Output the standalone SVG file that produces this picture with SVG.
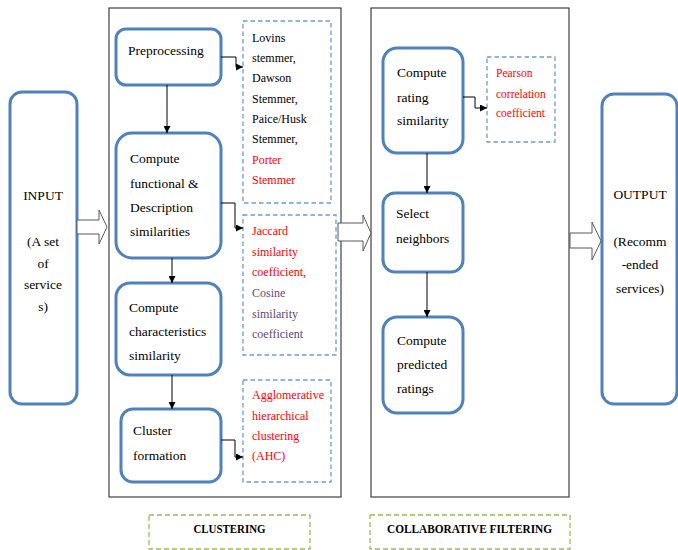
<svg xmlns="http://www.w3.org/2000/svg" width="678" height="550" viewBox="0 0 678 550">
<defs>
<marker id="ah" viewBox="0 0 8 8" refX="8" refY="4" markerWidth="7" markerHeight="7" markerUnits="userSpaceOnUse" orient="auto">
<path d="M0,0 L8,4 L0,8 Z" fill="#000"/>
</marker>
<style>
.node{fill:#fff;stroke:#4f81bd;stroke-width:3}
.frame{fill:#fff;stroke:#404040;stroke-width:1.2}
.dbox{fill:#fff;stroke:#6f9bd1;stroke-width:1.3;stroke-dasharray:4.5 3}
.gbox{fill:#fff;stroke:#9bbb59;stroke-width:1.3;stroke-dasharray:5 3}
.hollow{fill:#fff;stroke:#595959;stroke-width:1}
.conn{fill:none;stroke:#000;stroke-width:1;marker-end:url(#ah)}
text{font-family:'Liberation Serif','DejaVu Serif','Times New Roman',serif}
.t{font-size:13.5px;fill:#000}
.s{font-size:12px;fill:#000}
.p{font-size:11.5px;fill:#ff0000}
.red{fill:#ff0000}
.pur{fill:#604a7b}
.lab{font-size:12px;font-weight:bold;fill:#000}
</style>
</defs>

<rect class="frame" x="109" y="8" width="232" height="489"/>
<rect class="frame" x="371" y="8" width="198" height="489"/>

<g id="input">
<rect class="node" x="10" y="92" width="67" height="312" rx="12"/>
<text class="t" font-family="Liberation Serif, serif" text-anchor="middle" x="43" y="200">INPUT</text>
<text class="t" font-family="Liberation Serif, serif" text-anchor="middle" x="43" y="246">(A set</text>
<text class="t" font-family="Liberation Serif, serif" text-anchor="middle" x="43" y="268">of</text>
<text class="t" font-family="Liberation Serif, serif" text-anchor="middle" x="43" y="289">service</text>
<text class="t" font-family="Liberation Serif, serif" text-anchor="middle" x="43" y="311">s)</text>
</g>

<g id="preprocessing">
<rect class="node" x="116" y="29" width="105" height="56" rx="10"/>
<text class="t" x="128" y="55">Preprocessing</text>
</g>

<g id="functional">
<rect class="node" x="116" y="133" width="105" height="125" rx="16"/>
<text class="t" x="130" y="163">Compute</text>
<text class="t" x="130" y="187.5">functional &amp;</text>
<text class="t" x="130" y="212">Description</text>
<text class="t" x="130" y="236">similarities</text>
</g>

<g id="characteristics">
<rect class="node" x="116" y="283" width="105" height="92" rx="14"/>
<text class="t" x="129" y="312">Compute</text>
<text class="t" x="129" y="336">characteristics</text>
<text class="t" x="129" y="360">similarity</text>
</g>

<g id="cluster">
<rect class="node" x="121" y="409" width="100" height="73" rx="12"/>
<text class="t" x="133" y="435">Cluster</text>
<text class="t" x="133" y="460">formation</text>
</g>

<g id="stemmers">
<rect class="dbox" x="243" y="21" width="88" height="182"/>
<text class="s" x="252" y="42">Lovins</text>
<text class="s" x="252" y="62">stemmer,</text>
<text class="s" x="252" y="82">Dawson</text>
<text class="s" x="252" y="103">Stemmer,</text>
<text class="s" x="252" y="123">Paice/Husk</text>
<text class="s" x="252" y="143">Stemmer,</text>
<text class="s red" x="252" y="164">Porter</text>
<text class="s red" x="252" y="184">Stemmer</text>
</g>

<g id="similarity-coefficients">
<rect class="dbox" x="243" y="215" width="93" height="140"/>
<text class="s red" x="252" y="235">Jaccard</text>
<text class="s red" x="252" y="256">similarity</text>
<text class="s red" x="252" y="276">coefficient,</text>
<text class="s pur" x="252" y="297">Cosine</text>
<text class="s pur" x="252" y="318">similarity</text>
<text class="s pur" x="252" y="338">coefficient</text>
</g>

<g id="ahc">
<rect class="dbox" x="243" y="380" width="88" height="102"/>
<text class="s red" x="252" y="399">Agglomerative</text>
<text class="s red" x="252" y="420">hierarchical</text>
<text class="s red" x="252" y="440">clustering</text>
<text class="s red" x="252" y="460">(AHC)</text>
</g>

<g id="rating">
<rect class="node" x="383" y="48" width="80" height="105" rx="14"/>
<text class="t" x="397" y="77">Compute</text>
<text class="t" x="397" y="102">rating</text>
<text class="t" x="397" y="125">similarity</text>
</g>

<g id="pearson">
<rect class="dbox" x="487" y="57" width="68" height="85"/>
<text class="p" x="496" y="77">Pearson</text>
<text class="p" x="496" y="98">correlation</text>
<text class="p" x="496" y="117">coefficient</text>
</g>

<g id="neighbors">
<rect class="node" x="383" y="193" width="80" height="79" rx="12"/>
<text class="t" x="396" y="218">Select</text>
<text class="t" x="396" y="243">neighbors</text>
</g>

<g id="predicted">
<rect class="node" x="383" y="317" width="80" height="96" rx="14"/>
<text class="t" x="397" y="345">Compute</text>
<text class="t" x="397" y="369">predicted</text>
<text class="t" x="397" y="393">ratings</text>
</g>

<g id="output">
<rect class="node" x="602" y="94" width="75" height="310" rx="12"/>
<text class="t" text-anchor="middle" x="640" y="199">OUTPUT</text>
<text class="t" text-anchor="middle" x="640" y="246">(Recomm</text>
<text class="t" text-anchor="middle" x="640" y="269">-ended</text>
<text class="t" text-anchor="middle" x="640" y="293">services)</text>
</g>

<g id="clustering-label">
<rect class="gbox" x="149" y="515" width="161" height="34"/>
<text class="lab" text-anchor="middle" x="229.5" y="533" textLength="72" lengthAdjust="spacingAndGlyphs">CLUSTERING</text>
</g>

<g id="cf-label">
<rect class="gbox" x="370" y="515" width="200" height="34"/>
<text class="lab" text-anchor="middle" x="469.5" y="533" textLength="165" lengthAdjust="spacingAndGlyphs">COLLABORATIVE FILTERING</text>
</g>

<g id="connectors">
<polygon class="hollow" points="77,220 99,220 99,210 107,227 99,244 99,234 77,234"/>
<polygon class="hollow" points="338,223 363,223 363,215 371,233 363,251 363,241 338,241"/>
<polygon class="hollow" points="570,233 592,233 592,222 601,241 592,260 592,248 570,248"/>
<path class="conn" d="M167,85 V133"/>
<path class="conn" d="M172,258 V283"/>
<path class="conn" d="M172,375 V409"/>
<path class="conn" d="M427,153 V193"/>
<path class="conn" d="M427,272 V317"/>
<path class="conn" d="M221,57 H236 V67 H243"/>
<path class="conn" d="M221,203 H235 V228 H243"/>
<path class="conn" d="M221,440 H235 V457 H243"/>
<path class="conn" d="M463,97 H475 V108 H487"/>
</g>
</svg>
